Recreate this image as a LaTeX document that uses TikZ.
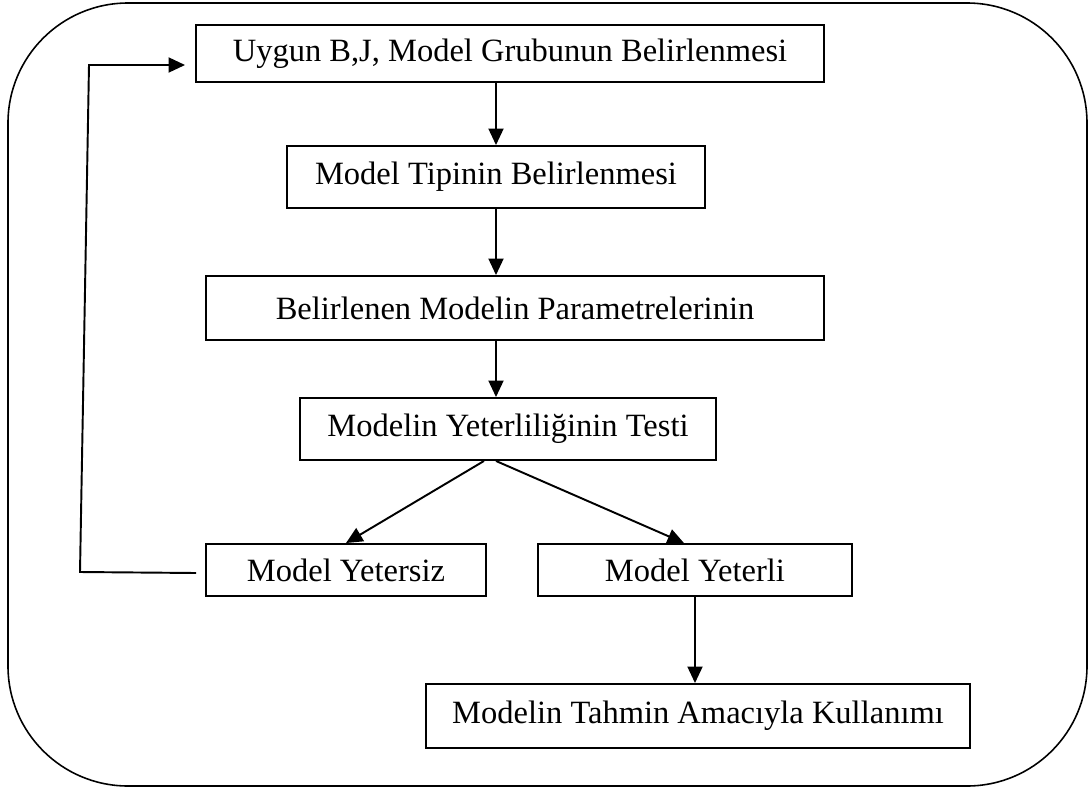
\documentclass[tikz,border=0pt]{standalone}
\usepackage{fontspec}
\setmainfont{Liberation Serif}
\usetikzlibrary{arrows.meta, positioning, calc}

\begin{document}
\begin{tikzpicture}[
        stepbox/.style={rectangle, draw=black, line width=1.1pt, inner sep=0pt, align=center, font=\fontsize{18.5}{22}\selectfont},
        arrow/.style={-{Triangle[length=0.33cm, width=0.3cm]}, line width=1.1pt, draw=black},
        frame/.style={draw=black, line width=0.9pt, rounded corners=2.4cm}
    ]
        \useasboundingbox (0,0) rectangle (21.78,-15.78);
        \draw[frame] (0.16,-0.06) rectangle (21.74,-15.72);

        \node[stepbox, minimum width=12.56cm, minimum height=1.14cm] (grup) at (10.2,-1.07) {Uygun B,J, Model Grubunun Belirlenmesi};
        \node[stepbox, minimum width=8.35cm, minimum height=1.24cm] (tip) at (9.92,-3.54) {Model Tipinin Belirlenmesi};
        \node[stepbox, minimum width=12.36cm, minimum height=1.28cm] (param) at (10.3,-6.16) {Belirlenen Modelin Parametrelerinin};
        \node[stepbox, minimum width=8.32cm, minimum height=1.24cm] (test) at (10.16,-8.58) {Modelin Yeterliliğinin Testi};
        \node[stepbox, minimum width=5.6cm, minimum height=1.04cm] (yetersiz) at (6.92,-11.4) {Model Yetersiz};
        \node[stepbox, minimum width=6.28cm, minimum height=1.04cm] (yeterli) at (13.9,-11.4) {Model Yeterli};
        \node[stepbox, minimum width=10.88cm, minimum height=1.28cm] (tahmin) at (13.96,-14.32) {Modelin Tahmin Amacıyla Kullanımı};

        % feedback corners
        \coordinate (geriA) at (1.6,-11.44);
        \coordinate (geriB) at (1.78,-1.3);
        \coordinate (split) at (test.south -| tip);

        \draw[arrow] (grup.south -| tip) -- (tip.north);
        \draw[arrow] (tip.south) -- (param.north -| tip);
        \draw[arrow] (param.south -| tip) -- (test.north -| tip);
        \draw[arrow] ([xshift=-0.24cm]split) -- (yetersiz.north);
        \draw[arrow] (split) -- ([xshift=-0.22cm]yeterli.north);
        \draw[arrow] (yeterli.south) -- (tahmin.north -| yeterli.south);
        \draw[arrow] ([xshift=-0.18cm,yshift=-0.06cm]yetersiz.west) -- (geriA) -- (geriB) -- ([xshift=-0.2cm]grup.west |- geriB);
    \end{tikzpicture}
\end{document}
